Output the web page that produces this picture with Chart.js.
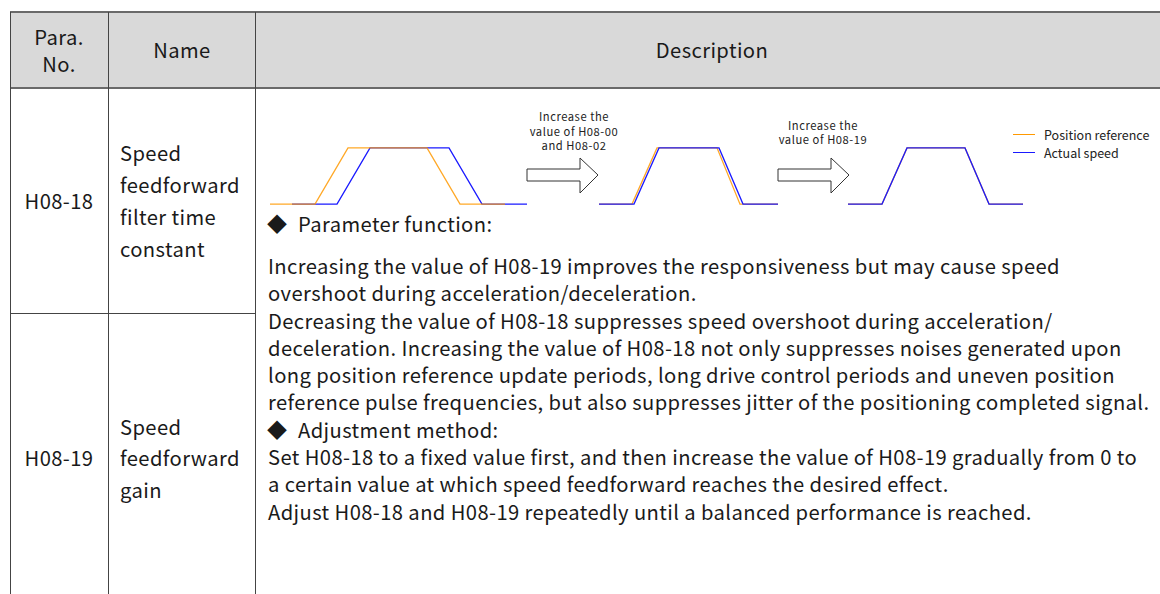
<!DOCTYPE html>
<html>
<head>
<meta charset="utf-8">
<script src="https://cdn.jsdelivr.net/npm/chart.js@4.4.1/dist/chart.umd.min.js"></script>
<style>
  html, body { margin: 0; padding: 0; background: #fff; }
  body { width: 1160px; height: 594px; position: relative; overflow: hidden;
         font-family: "Noto Sans CJK SC", "Noto Sans", sans-serif; color: #1a1a1a; }
  .abs { position: absolute; white-space: nowrap; }
  .ln { position: absolute; white-space: nowrap; font-size: 20.2px; letter-spacing: 0.4px; line-height: 26px; height: 26px; }
  .hline { position: absolute; height: 0; }
  .vline { position: absolute; width: 0; }
  .small { position: absolute; white-space: nowrap; font-size: 11.2px; letter-spacing: 0.55px; line-height: 14px; height: 14px;
           width: 110px; text-align: center; color: #222; }
  canvas { position: absolute; }
</style>
</head>
<body>

<!-- cabeçalho -->
<div class="abs" style="left:10px; top:12px; width:1160px; height:76px; background:#d9d9d9;"></div>
<div class="hline" style="left:10px; top:11px; width:1160px; border-top:2px solid #6a6a6a;"></div>
<div class="hline" style="left:10px; top:87px; width:1160px; border-top:2px solid #6a6a6a;"></div>
<div class="vline" style="left:10px; top:12px; height:600px; border-left:1px solid #444;"></div>
<div class="vline" style="left:108px; top:12px; height:600px; border-left:1px solid #444;"></div>
<div class="vline" style="left:255px; top:12px; height:600px; border-left:1px solid #444;"></div>
<div class="hline" style="left:10px; top:313px; width:246px; border-top:1px solid #444;"></div>

<div class="ln" style="left:10px; width:98px; text-align:center; top:24px;">Para.</div>
<div class="ln" style="left:10px; width:98px; text-align:center; top:51px;">No.</div>
<div class="ln" style="left:108px; width:148px; text-align:center; top:37px;">Name</div>
<div class="ln" style="left:256px; width:912px; text-align:center; top:37px;">Description</div>

<!-- coluna Para./Name -->
<div class="ln" style="left:10px; width:98px; text-align:center; top:188px;">H08-18</div>
<div class="ln" style="left:120px; top:140px;">Speed</div>
<div class="ln" style="left:120px; top:172px;">feedforward</div>
<div class="ln" style="left:120px; top:204px;">filter time</div>
<div class="ln" style="left:120px; top:236px;">constant</div>

<div class="ln" style="left:10px; width:98px; text-align:center; top:445px;">H08-19</div>
<div class="ln" style="left:120px; top:414px;">Speed</div>
<div class="ln" style="left:120px; top:445px;">feedforward</div>
<div class="ln" style="left:120px; top:477px;">gain</div>

<!-- descrição -->
<div class="ln" style="left:267px; top:211px; font-size:20px;">◆</div>
<div class="ln" style="left:298px; top:211px;">Parameter function:</div>
<div class="ln" style="left:268px; top:253px;">Increasing the value of H08-19 improves the responsiveness but may cause speed</div>
<div class="ln" style="left:268px; top:280px;">overshoot during acceleration/deceleration.</div>
<div class="ln" style="left:268px; top:308px;">Decreasing the value of H08-18 suppresses speed overshoot during acceleration/</div>
<div class="ln" style="left:268px; top:335px;">deceleration. Increasing the value of H08-18 not only suppresses noises generated upon</div>
<div class="ln" style="left:268px; top:362px;">long position reference update periods, long drive control periods and uneven position</div>
<div class="ln" style="left:268px; top:389px;">reference pulse frequencies, but also suppresses jitter of the positioning completed signal.</div>
<div class="ln" style="left:267px; top:417px; font-size:20px;">◆</div>
<div class="ln" style="left:298px; top:417px;">Adjustment method:</div>
<div class="ln" style="left:268px; top:444px;">Set H08-18 to a fixed value first, and then increase the value of H08-19 gradually from 0 to</div>
<div class="ln" style="left:268px; top:471px;">a certain value at which speed feedforward reaches the desired effect.</div>
<div class="ln" style="left:268px; top:499px;">Adjust H08-18 and H08-19 repeatedly until a balanced performance is reached.</div>

<!-- setas -->
<div class="small" style="left:519px; top:109px;">Increase the</div>
<div class="small" style="left:519px; top:123.6px;">value of H08-00</div>
<div class="small" style="left:519px; top:138.2px;">and H08-02</div>
<div class="small" style="left:768px; top:117.5px;">Increase the</div>
<div class="small" style="left:768px; top:132.1px;">value of H08-19</div>
<svg class="abs" style="left:0; top:0;" width="1160" height="250">
  <polygon points="527,169 580,169 580,158 598,175 580,193 580,181 527,181" fill="#fff" stroke="#333" stroke-width="1"/>
  <polygon points="778,169 831,169 831,158 849,175 831,193 831,181 778,181" fill="#fff" stroke="#333" stroke-width="1"/>
</svg>

<!-- legenda -->
<div class="abs" style="left:1013px; top:134px; width:22px; border-top:1.3px solid #ff9900;"></div>
<div class="abs" style="left:1013px; top:152px; width:22px; border-top:1.3px solid #1a1aff;"></div>
<div class="abs" style="left:1044px; top:127px; height:16px; font-size:12.5px; line-height:16px; color:#222;">Position reference</div>
<div class="abs" style="left:1044px; top:145px; height:16px; font-size:12.5px; line-height:16px; color:#222;">Actual speed</div>

<canvas id="g1" width="261" height="72" style="left:268px; top:140px;"></canvas>
<canvas id="g2" width="183" height="72" style="left:597px; top:140px;"></canvas>
<canvas id="g3" width="179" height="72" style="left:846px; top:140px;"></canvas>

<script>
// Curvas: tempo (unid.) x nível (0 = parado, 1 = velocidade máxima)
const refAntes   = [[0,0],[45,0],[78,1],[157,1],[190,0],[235,0]];
const velAntes   = [[22,0],[67,0],[100,1],[179,1],[212,0],[257,0]];
const refMeio    = [[0,0],[33,0],[58,1],[118,1],[141,0],[179,0]];
const velMeio    = [[0,0],[35,0],[60,1],[120,1],[144,0],[179,0]];
const refDepois  = [[0,0],[34,0],[59,1],[117,1],[141,0],[175,0]];
const velDepois  = [[0,0],[34,0],[59,1],[117,1],[141,0],[175,0]];
const duracao    = [257, 179, 175];

const COR_REF = 'rgba(255,153,0,0.85)';
const COR_VEL = '#1a1aff';

const pts = arr => arr.map(p => ({ x: p[0], y: p[1] }));

function grafico(id, ref, vel, tmax, refPorCima) {
    const dsRef = { data: pts(ref), borderColor: COR_REF, borderWidth: 1.3, pointRadius: 0, showLine: true, tension: 0, clip: false };
    const dsVel = { data: pts(vel), borderColor: COR_VEL, borderWidth: 1.3, pointRadius: 0, showLine: true, tension: 0, clip: false };
    return new Chart(document.getElementById(id), {
        type: 'scatter',
        data: { datasets: refPorCima ? [dsRef, dsVel] : [dsVel, dsRef] },
        options: {
            responsive: false,
            animation: false,
            layout: { padding: { left: 2, right: 2, top: 0, bottom: 0 } },
            scales: {
                x: { type: 'linear', display: false, min: 0, max: tmax },
                y: { display: false, min: -0.14, max: 1.14 }
            },
            plugins: { legend: { display: false }, tooltip: { enabled: false } }
        }
    });
}

grafico('g1', refAntes, velAntes, duracao[0], true);
grafico('g2', refMeio, velMeio, duracao[1], false);
grafico('g3', refDepois, velDepois, duracao[2], false);
</script>
</body>
</html>
